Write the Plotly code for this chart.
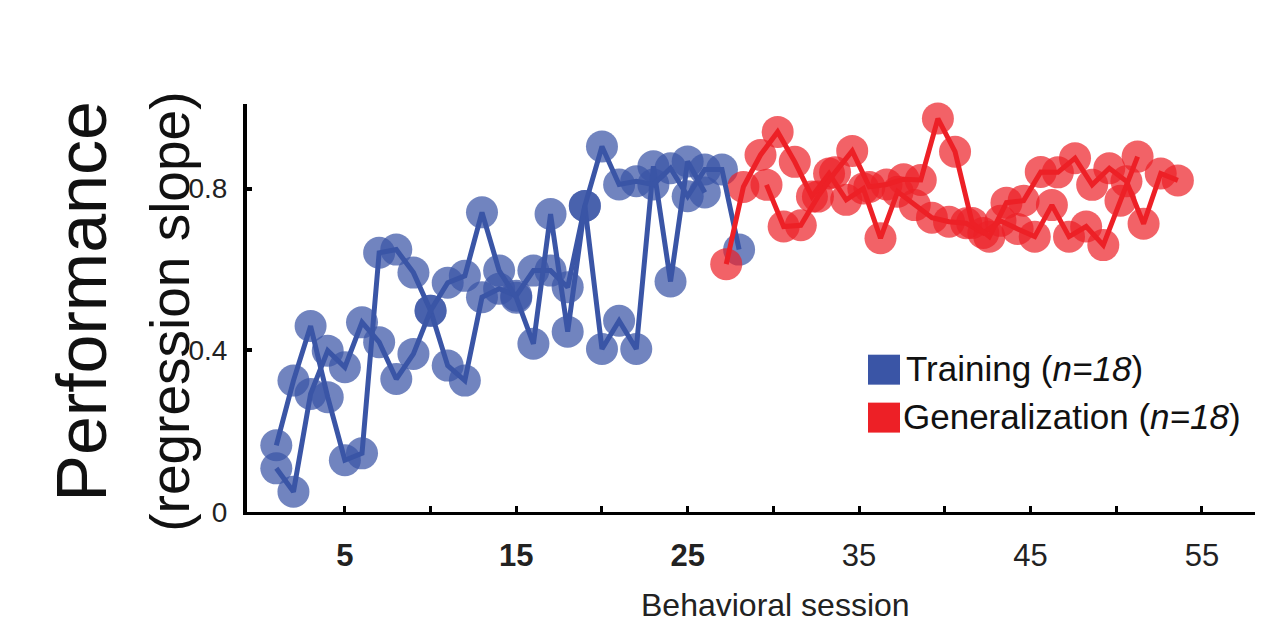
import plotly.graph_objects as go

# ---------------- data ----------------
train_a_session = [1, 2, 3, 4, 5, 6, 7, 8, 9, 10, 11, 12, 13, 14, 15, 16, 17, 18, 19, 20,
                   21, 22, 23, 24, 25, 26]
train_a_perf = [0.165, 0.325, 0.46, 0.284, 0.128, 0.145, 0.641, 0.649, 0.592, 0.498,
                0.362, 0.325, 0.531, 0.552, 0.535, 0.597, 0.597, 0.556, 0.757, 0.403,
                0.473, 0.403, 0.855, 0.57, 0.867, 0.79]

train_b_session = [1, 2, 3, 4, 5, 6, 7, 8, 9, 10, 11, 12, 13, 14, 15, 16, 17, 18, 19, 20,
                   21, 22, 23, 24, 25, 26, 27, 28]
train_b_perf = [0.108, 0.05, 0.292, 0.399, 0.358, 0.469, 0.42, 0.329, 0.391, 0.498,
                0.567, 0.584, 0.741, 0.597, 0.53, 0.416, 0.737, 0.446, 0.757, 0.904,
                0.81, 0.818, 0.81, 0.85, 0.781, 0.847, 0.847, 0.649]

gen_a_session = [27.25, 28.25, 29.25, 30.25, 31.25, 32.25, 33.25, 34.25, 35.25, 36.25,
                 37.25, 38.25, 39.25, 40.25, 41.25, 42.25, 43.25, 44.25, 45.25, 46.25,
                 47.25, 48.25, 49.25, 50.25, 51.25]
gen_a_perf = [0.613, 0.804, 0.883, 0.94, 0.866, 0.78, 0.837, 0.772, 0.80, 0.677,
              0.792, 0.759, 0.728, 0.718, 0.714, 0.69, 0.72, 0.70, 0.681, 0.759,
              0.681, 0.706, 0.66, 0.77, 0.879]

gen_b_session = [29.6, 30.6, 31.6, 32.6, 33.6, 34.6, 35.6, 36.6, 37.6, 38.6,
                 39.6, 40.6, 41.6, 42.6, 43.6, 44.6, 45.6, 46.6, 47.6, 48.6,
                 49.6, 50.6, 51.6, 52.6, 53.6]
gen_b_perf = [0.809, 0.706, 0.709, 0.78, 0.84, 0.893, 0.804, 0.81, 0.823, 0.821,
              0.973, 0.891, 0.715, 0.681, 0.765, 0.77, 0.841, 0.84, 0.875, 0.809,
              0.85, 0.818, 0.713, 0.837, 0.82]

x_tick_vals = [5, 10, 15, 20, 25, 30, 35, 40, 45, 50, 55]
x_tick_text = ["<b>5</b>", "", "<b>15</b>", "", "<b>25</b>", "", "35", "", "45", "", "55"]
y_tick_vals = [0, 0.4, 0.8]
y_tick_text = ["0", "0.4", "0.8"]

legend_labels = ["Training (<i>n=18</i>)", "Generalization (<i>n=18</i>)"]

# ---------------- style ----------------
BLUE_LINE = "#3a55a6"
BLUE_MARK = "rgba(58,85,166,0.72)"
RED_LINE = "#ed2026"
RED_MARK = "rgba(237,32,38,0.70)"
FONT = "Liberation Sans, Arial, Helvetica, sans-serif"
NARROW = "Liberation Sans Narrow, Arial Narrow, Liberation Sans, sans-serif"

W, H = 1266, 637
PL, PR, PT, PB = 247, 1255, 104, 512.5   # plot-area pixel box


def px_x(p):
    return (p - PL) / (PR - PL)


def px_y(p):
    return (PB - p) / (PB - PT)


fig = go.Figure()

series = [
    (train_a_session, train_a_perf, BLUE_MARK, BLUE_LINE),
    (train_b_session, train_b_perf, BLUE_MARK, BLUE_LINE),
    (gen_a_session, gen_a_perf, RED_MARK, RED_LINE),
    (gen_b_session, gen_b_perf, RED_MARK, RED_LINE),
]

# translucent discs first
for xs, ys, mc, lc in series:
    fig.add_trace(go.Scatter(
        x=xs, y=ys, mode="markers",
        marker=dict(size=32, color=mc, line=dict(width=0)),
        cliponaxis=False, showlegend=False, hoverinfo="skip"))

# connecting lines on top
for xs, ys, mc, lc in series:
    fig.add_trace(go.Scatter(
        x=xs, y=ys, mode="lines",
        line=dict(color=lc, width=5),
        cliponaxis=False, showlegend=False))

annotations = [
    dict(text="Performance", x=px_x(82), y=px_y(302), xref="paper", yref="paper",
         textangle=-90, showarrow=False, xanchor="center", yanchor="middle",
         font=dict(family=FONT, size=70, color="#111")),
    dict(text="(regression slope)", x=px_x(170), y=px_y(312), xref="paper", yref="paper",
         textangle=-90, showarrow=False, xanchor="center", yanchor="middle",
         font=dict(family=FONT, size=55, color="#111")),
    dict(text="Behavioral session", x=px_x(775), y=px_y(606), xref="paper", yref="paper",
         showarrow=False, xanchor="center", yanchor="middle",
         font=dict(family=FONT, size=32, color="#222")),
    dict(text=legend_labels[0], x=px_x(904), y=px_y(369), xref="paper", yref="paper",
         showarrow=False, xanchor="left", yanchor="middle",
         font=dict(family=FONT, size=35, color="#111")),
    dict(text=legend_labels[1], x=px_x(901), y=px_y(417), xref="paper", yref="paper",
         showarrow=False, xanchor="left", yanchor="middle",
         font=dict(family=FONT, size=35, color="#111")),
]

shapes = [
    dict(type="rect", xref="paper", yref="paper", x0=px_x(868), x1=px_x(900),
         y0=px_y(385), y1=px_y(355), fillcolor="#3a55a6", line=dict(width=0)),
    dict(type="rect", xref="paper", yref="paper", x0=px_x(868), x1=px_x(900),
         y0=px_y(433), y1=px_y(403), fillcolor="#ed2026", line=dict(width=0)),
]

fig.update_layout(
    width=W, height=H,
    margin=dict(l=PL, r=W - PR, t=PT, b=H - PB, pad=0),
    paper_bgcolor="white", plot_bgcolor="white",
    font=dict(family=FONT, color="#222"),
    annotations=annotations, shapes=shapes,
    xaxis=dict(range=[-0.71, 58.1], showgrid=False, zeroline=False,
               showline=True, linecolor="black", linewidth=3,
               ticks="inside", ticklen=6, tickwidth=3, tickcolor="black",
               tickvals=x_tick_vals, ticktext=x_tick_text,
               tickfont=dict(family=NARROW, size=31, color="#222"),
               ticklabelstandoff=14),
    yaxis=dict(range=[0, 1.009], showgrid=False, zeroline=False,
               showline=True, linecolor="black", linewidth=4,
               ticks="inside", ticklen=5, tickwidth=4, tickcolor="black",
               tickvals=y_tick_vals, ticktext=y_tick_text,
               tickfont=dict(family=FONT, size=28, color="#222"),
               ticklabelstandoff=10),
)

fig.write_html("out.html", config={"displayModeBar": False},
               post_script="document.body.style.margin='0';")
